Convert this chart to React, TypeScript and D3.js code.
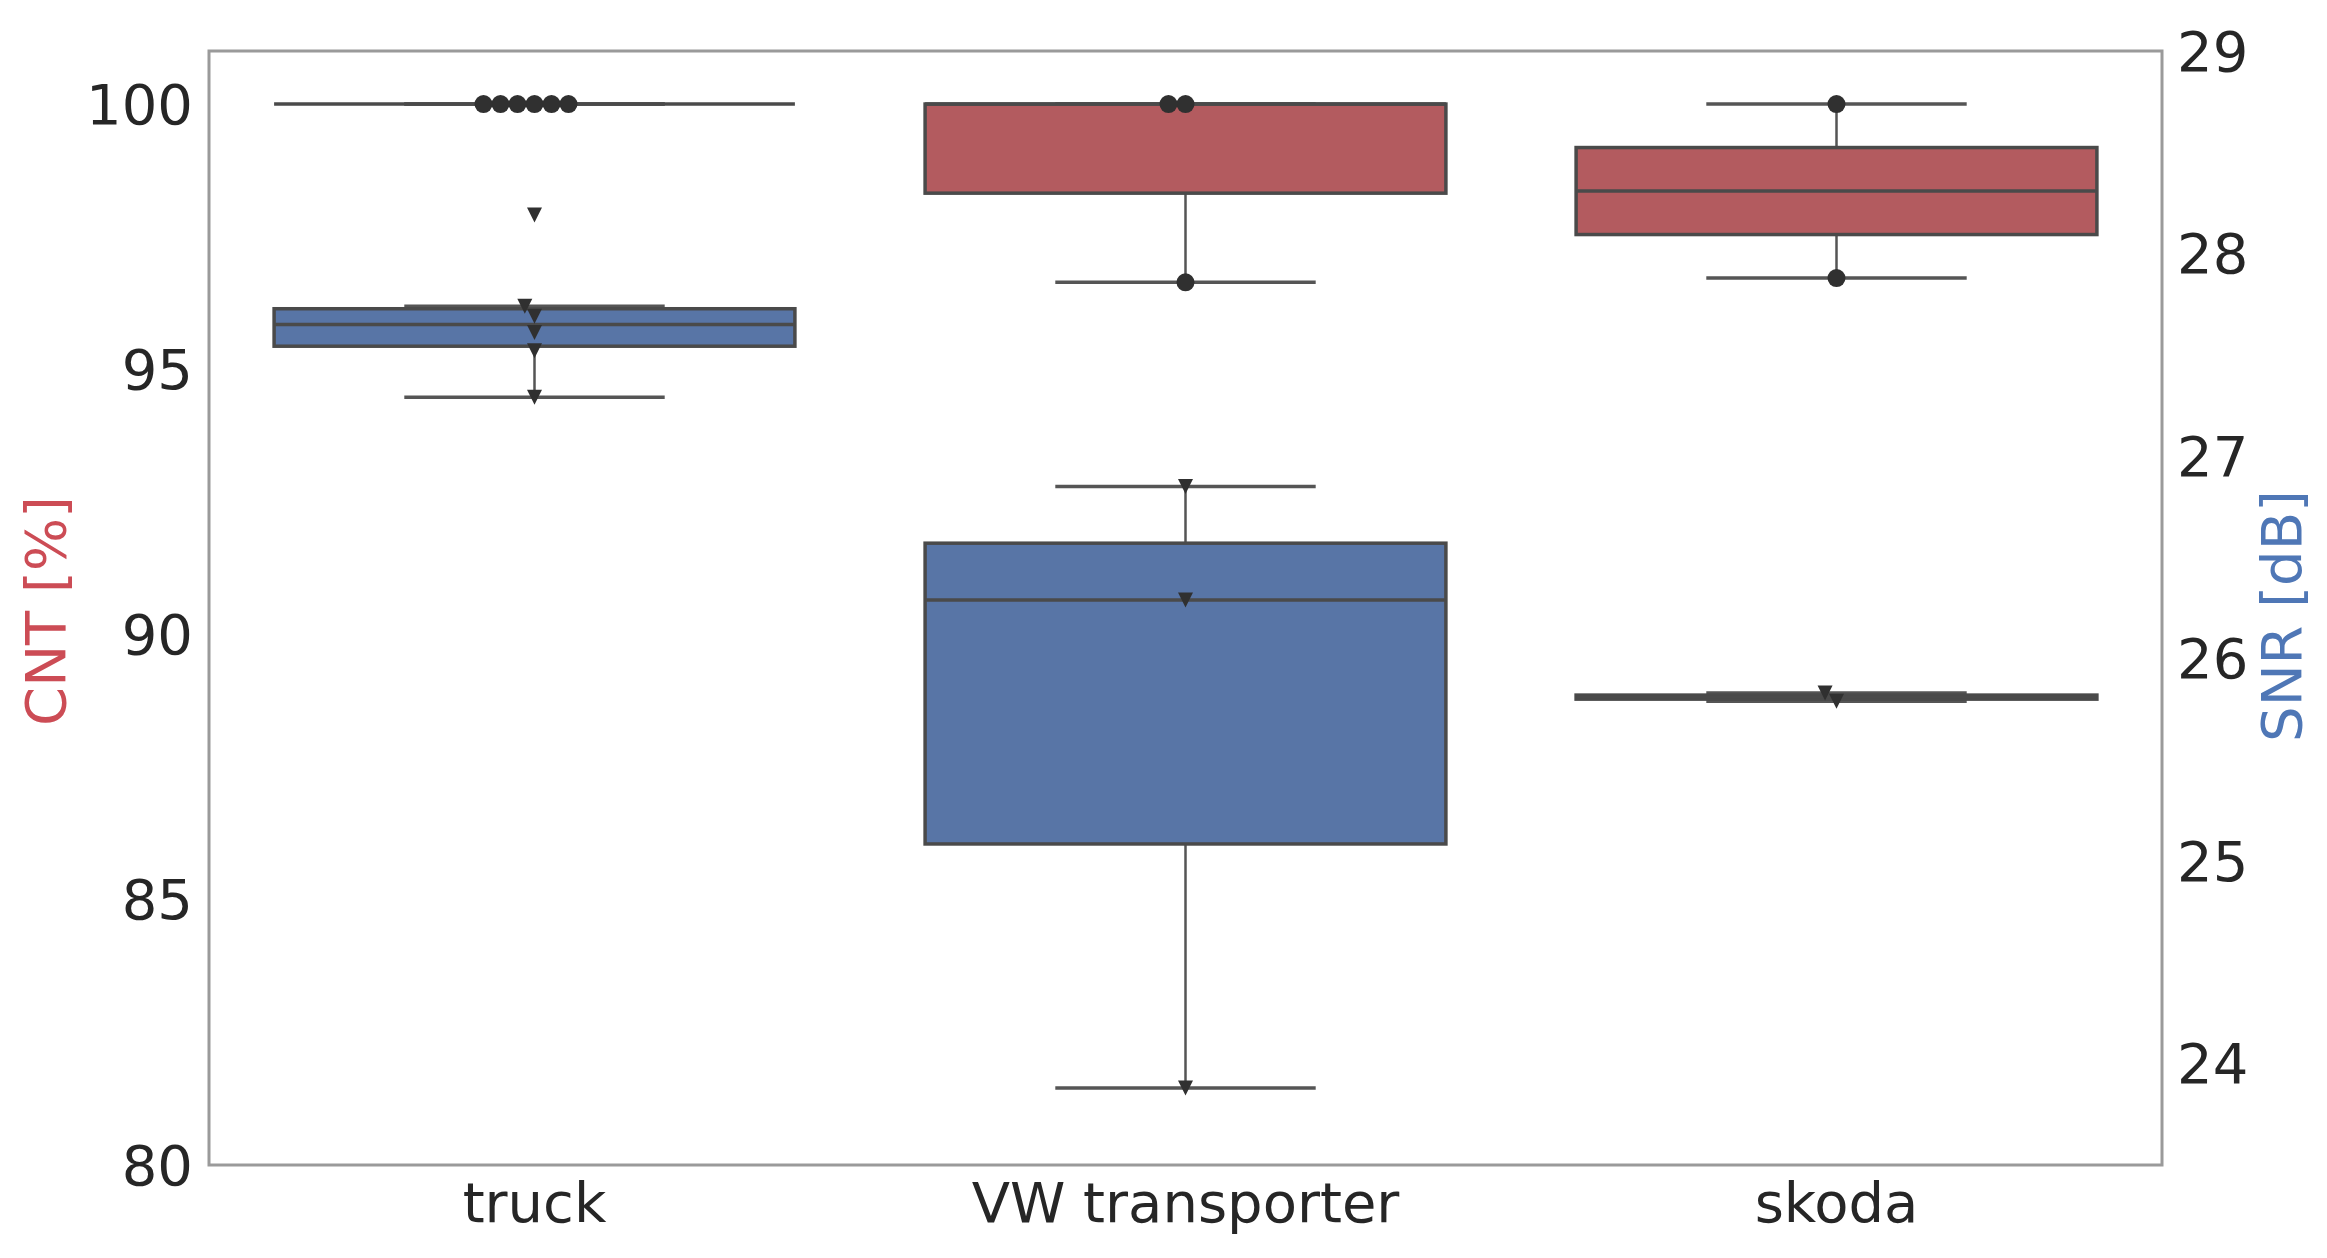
import React from "react";
import * as d3 from "d3";

const categories = ["truck", "VW transporter", "skoda"];
const cntValues = [
  [100, 100, 100, 100, 100, 100],
  [96.64, 100, 100],
  [96.72, 100],
];
const snrValues = [
  [28.19, 27.74, 27.69, 27.61, 27.52, 27.29],
  [26.85, 26.29, 23.88],
  [25.83, 25.79],
];
const cntTicks = [80, 85, 90, 95, 100];
const snrTicks = [24, 25, 26, 27, 28, 29];
const cntDomain = [80, 101];
const snrDomain = [23.5, 29];

const W = 2327;
const H = 1258;
const M = { left: 209, right: 2162, top: 51, bottom: 1165 };
const FONT = "'DejaVu Sans', sans-serif";
const FS = 56;

type Stats = { q1: number; med: number; q3: number; lo: number; hi: number };

function boxStats(vals: number[]): Stats {
  const s = [...vals].sort(d3.ascending);
  const q1 = d3.quantile(s, 0.25)!;
  const med = d3.quantile(s, 0.5)!;
  const q3 = d3.quantile(s, 0.75)!;
  const iqr = q3 - q1;
  const lo = d3.min(s.filter((v) => v >= q1 - 1.5 * iqr))!;
  const hi = d3.max(s.filter((v) => v <= q3 + 1.5 * iqr))!;
  return { q1, med, q3, lo, hi };
}

function swarm(ys: number[], diam: number): number[] {
  const idx = ys.map((_, i) => i).sort((a, b) => ys[b] - ys[a]);
  const placed: { x: number; y: number }[] = [];
  const out = new Array(ys.length).fill(0);
  for (const i of idx) {
    const y = ys[i];
    const cands = [0];
    for (const p of placed) {
      const dy = Math.abs(p.y - y);
      if (dy < diam) {
        const dx = Math.sqrt(diam * diam - dy * dy);
        cands.push(p.x - dx, p.x + dx);
      }
    }
    cands.sort((a, b) => Math.abs(a) - Math.abs(b) || a - b);
    let chosen = 0;
    for (const c of cands) {
      const ok = placed.every((p) => Math.hypot(p.x - c, p.y - y) >= diam - 1e-6);
      if (ok) {
        chosen = c;
        break;
      }
    }
    placed.push({ x: chosen, y });
    out[i] = chosen;
  }
  return out;
}

const x = d3.scaleBand<string>().domain(categories).range([M.left, M.right]).padding(0);
const yL = d3.scaleLinear().domain(cntDomain).range([M.bottom, M.top]);
const yR = d3.scaleLinear().domain(snrDomain).range([M.bottom, M.top]);

const EDGE = "#4a4a4a";
const CAP = "#555555";
const MARK = "#303030";

function BoxGroup({
  values,
  scale,
  fill,
  marker,
}: {
  values: number[][];
  scale: d3.ScaleLinear<number, number>;
  fill: string;
  marker: "circle" | "tri";
}) {
  const bw = x.bandwidth();
  const boxW = bw * 0.8;
  const capW = boxW * 0.5;
  return (
    <g>
      {categories.map((c, ci) => {
        const st = boxStats(values[ci]);
        const cx = x(c)! + bw / 2;
        const yq1 = scale(st.q1);
        const yq3 = scale(st.q3);
        const pys = values[ci].map((v) => scale(v));
        const offs = swarm(pys, marker === "circle" ? 17 : 14);
        return (
          <g key={c}>
            <line x1={cx} x2={cx} y1={scale(st.hi)} y2={yq3} stroke={CAP} strokeWidth={2.5} />
            <line x1={cx} x2={cx} y1={yq1} y2={scale(st.lo)} stroke={CAP} strokeWidth={2.5} />
            <line x1={cx - capW / 2} x2={cx + capW / 2} y1={scale(st.hi)} y2={scale(st.hi)} stroke={CAP} strokeWidth={3.5} />
            <line x1={cx - capW / 2} x2={cx + capW / 2} y1={scale(st.lo)} y2={scale(st.lo)} stroke={CAP} strokeWidth={3.5} />
            <rect
              x={cx - boxW / 2}
              y={yq3}
              width={boxW}
              height={Math.max(0, yq1 - yq3)}
              fill={fill}
              stroke={EDGE}
              strokeWidth={3.5}
            />
            <line x1={cx - boxW / 2} x2={cx + boxW / 2} y1={scale(st.med)} y2={scale(st.med)} stroke={EDGE} strokeWidth={3.5} />
            {pys.map((py, pi) => {
              const px = cx + offs[pi];
              return marker === "circle" ? (
                <circle key={pi} cx={px} cy={py} r={9} fill={MARK} />
              ) : (
                <path
                  key={pi}
                  d={`M${px - 7.5},${py - 7.5}L${px + 7.5},${py - 7.5}L${px},${py + 7.5}Z`}
                  fill={MARK}
                />
              );
            })}
          </g>
        );
      })}
    </g>
  );
}

export default function App() {
  const bw = x.bandwidth();
  return (
    <svg
      width={W}
      height={H}
      style={{ position: "absolute", left: 0, top: 0, display: "block", background: "#fff" }}
    >
      <rect x={0} y={0} width={W} height={H} fill="#fff" />
      <BoxGroup values={cntValues} scale={yL} fill="#b35b5f" marker="circle" />
      <BoxGroup values={snrValues} scale={yR} fill="#5875a6" marker="tri" />
      <rect
        x={M.left}
        y={M.top}
        width={M.right - M.left}
        height={M.bottom - M.top}
        fill="none"
        stroke="#9a9a9a"
        strokeWidth={3}
      />
      {cntTicks.map((t) => (
        <text
          key={t}
          x={M.left - 16}
          y={yL(t)}
          textAnchor="end"
          dominantBaseline="central"
          fontFamily={FONT}
          fontSize={FS}
          fill="#262626"
        >
          {t}
        </text>
      ))}
      {snrTicks.map((t) => (
        <text
          key={t}
          x={M.right + 15}
          y={yR(t)}
          textAnchor="start"
          dominantBaseline="central"
          fontFamily={FONT}
          fontSize={FS}
          fill="#262626"
        >
          {t}
        </text>
      ))}
      {categories.map((c) => (
        <text
          key={c}
          x={x(c)! + bw / 2}
          y={M.bottom + 57}
          textAnchor="middle"
          fontFamily={FONT}
          fontSize={FS}
          fill="#262626"
        >
          {c}
        </text>
      ))}
      <text
        transform={`translate(45,${(M.top + M.bottom) / 2 + 3}) rotate(-90)`}
        textAnchor="middle"
        dominantBaseline="central"
        fontFamily={FONT}
        fontSize={FS}
        fill="#cc4c55"
      >
        CNT [%]
      </text>
      <text
        transform={`translate(2281,${(M.top + M.bottom) / 2 + 8}) rotate(-90)`}
        textAnchor="middle"
        dominantBaseline="central"
        fontFamily={FONT}
        fontSize={FS}
        fill="#4f77b6"
      >
        SNR [dB]
      </text>
    </svg>
  );
}
